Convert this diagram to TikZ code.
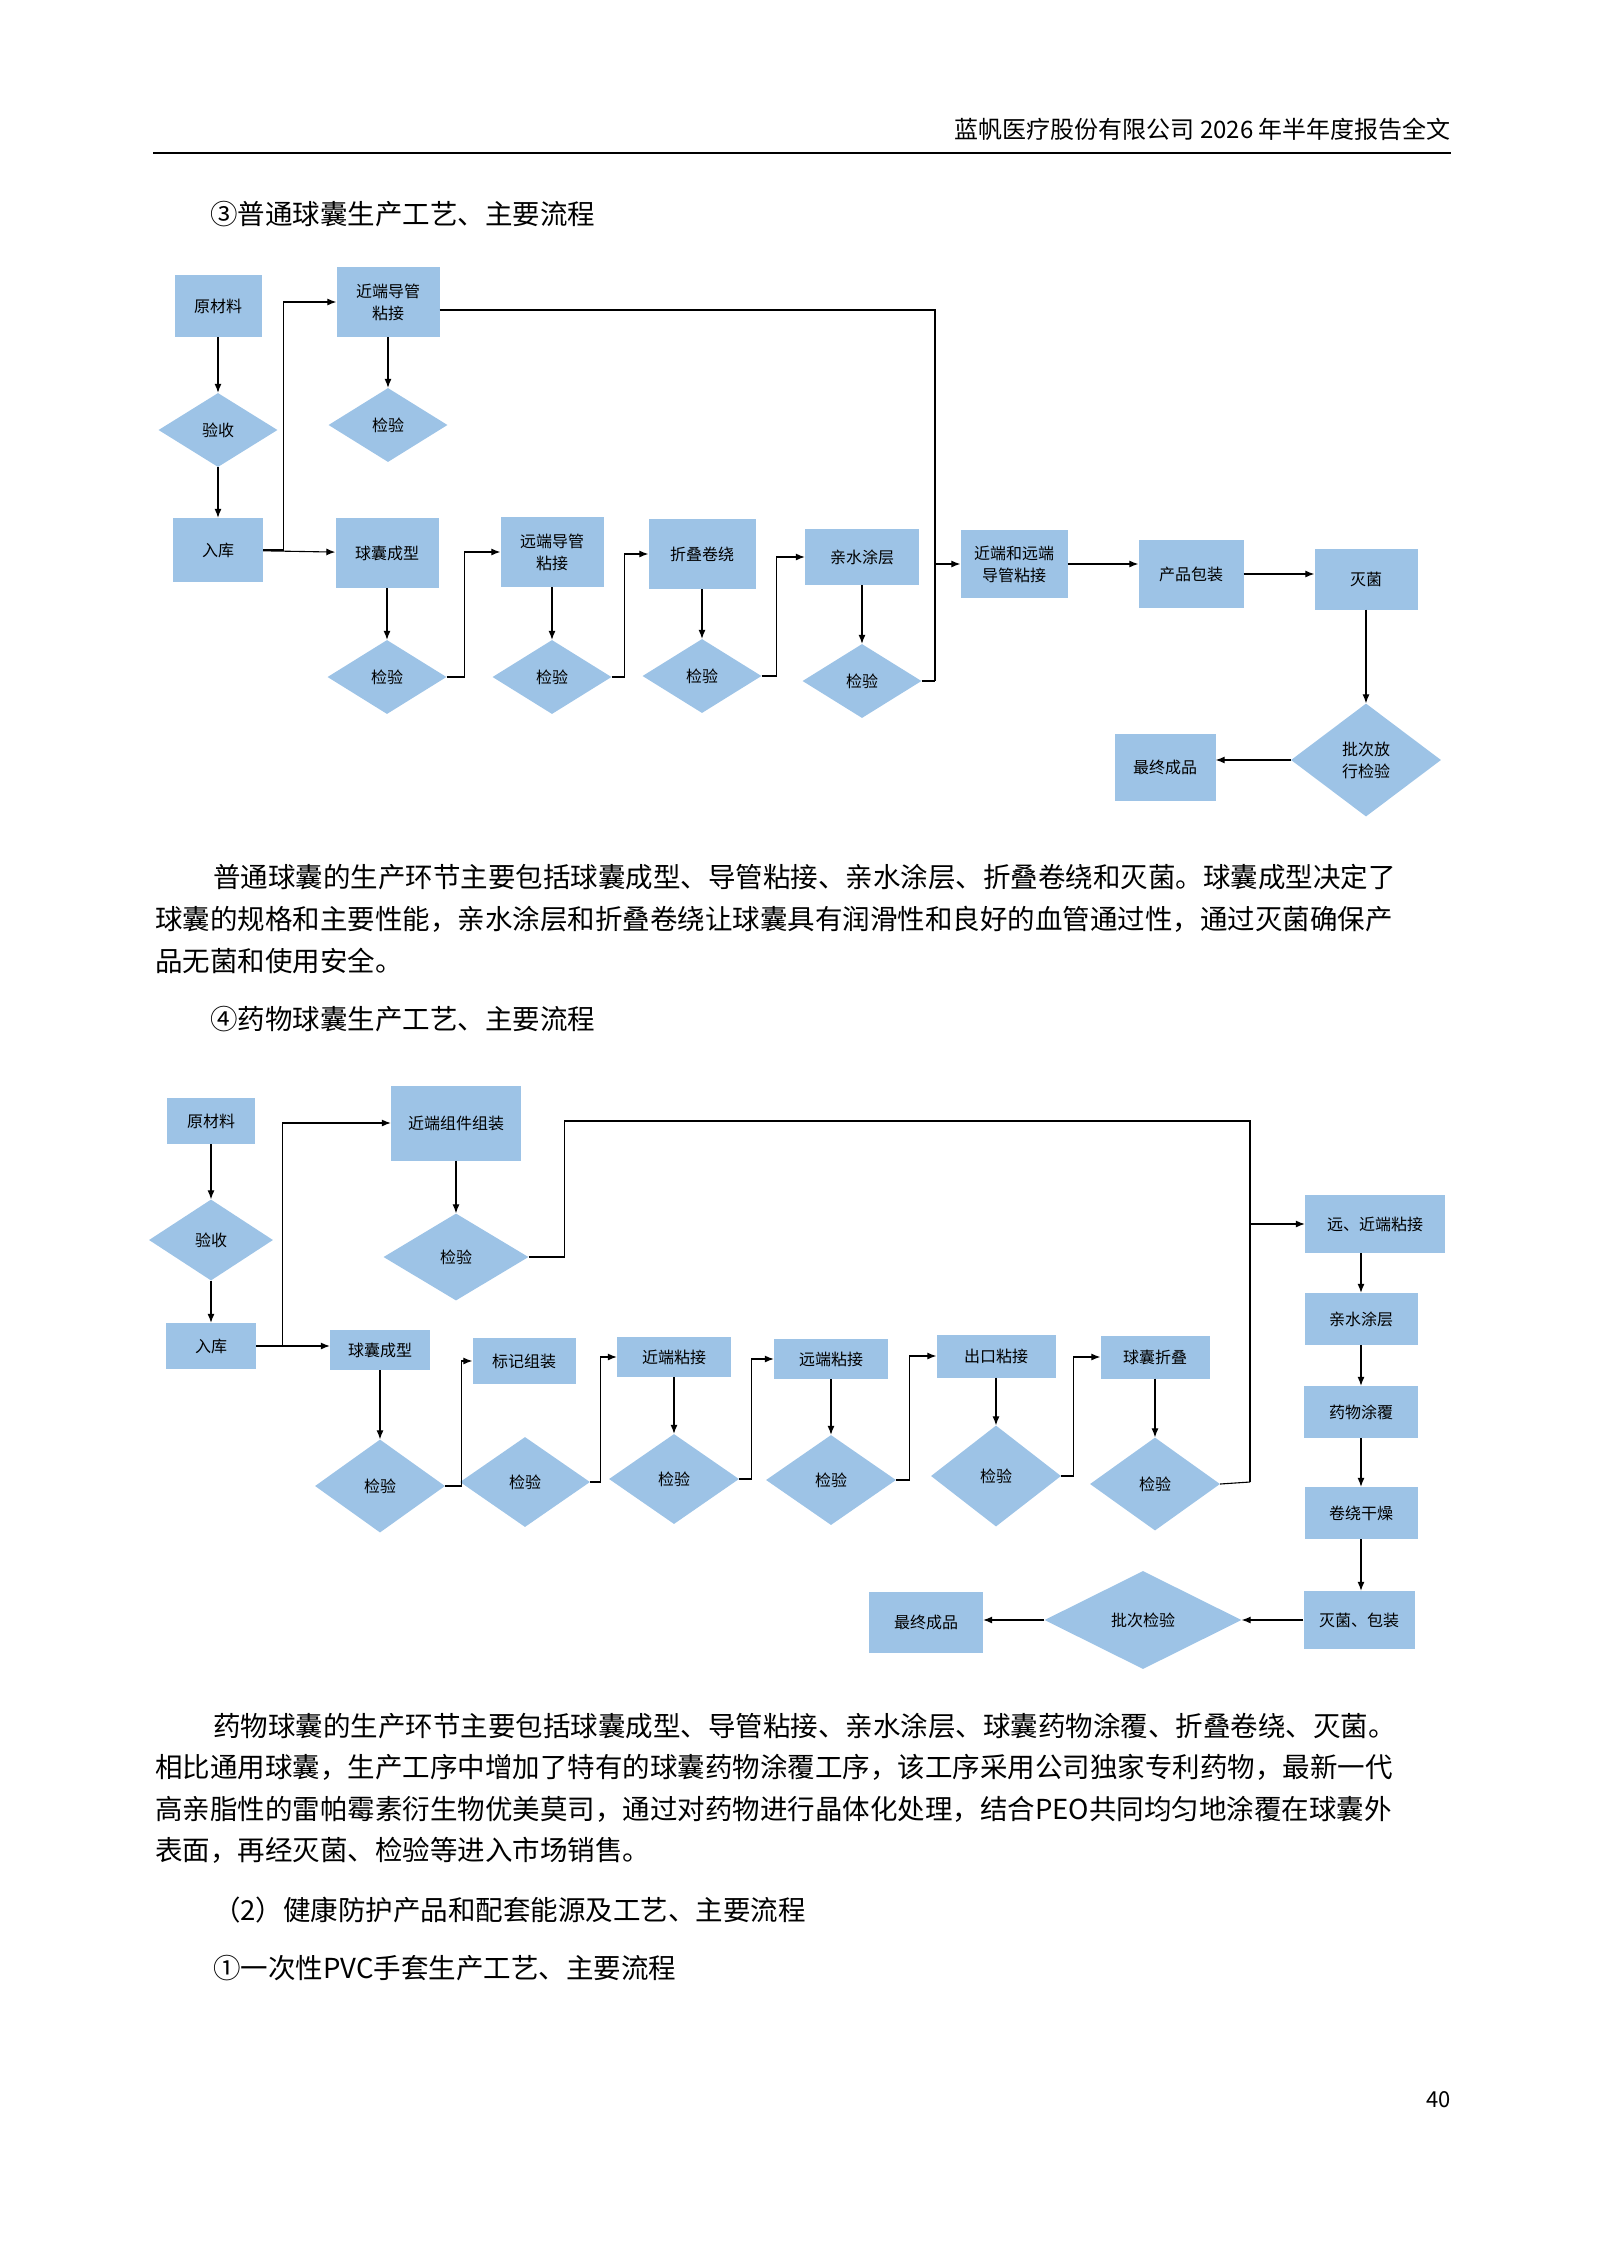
\documentclass[tikz,border=0pt]{standalone}
\usepackage{fontspec}
\setmainfont{Noto Sans CJK SC}
\usetikzlibrary{shapes.geometric,arrows.meta}
\definecolor{boxblue}{HTML}{9DC3E6}
\begin{document}
\begin{tikzpicture}[x=1pt,y=-1pt,
 box/.style={fill=boxblue,inner sep=0,minimum width=#1,align=center,font=\fontsize{16}{22}\selectfont},
 box/.default=103,
 dia/.style={diamond,fill=boxblue,inner sep=0,minimum width=119,minimum height=74,align=center,font=\fontsize{16}{22}\selectfont},
 arr/.style={-{Latex[length=9pt,width=7pt]},line width=1.1pt},
 ln/.style={line width=1.1pt},
 txt/.style={anchor=base west,inner sep=0,font=\fontsize{27.5}{30}\selectfont}]
\useasboundingbox (0,0) rectangle (1596,2257);
% header
\node[anchor=base east,inner sep=0,font=\fontsize{24}{28}\selectfont] (hd) at (1451,138) {蓝帆医疗股份有限公司 2026 年半年度报告全文};
\draw[line width=1.2pt] (153,153) -- (1451,153);
\node[txt] (t1h) at (210,224) {③普通球囊生产工艺、主要流程};
% ---------- diagram 1
\node[box=87,minimum height=62] (a1) at (218,306) {原材料};
\node[dia] (a2) at (218,430) {验收};
\node[box=90,minimum height=64] (a3) at (218,550) {入库};
\node[box,minimum height=70] (p1) at (388,302) {近端导管\\粘接};
\node[dia] (pk) at (388,425) {检验};
\node[box,minimum height=70] (b1) at (387,553) {球囊成型};
\node[dia] (k1) at (387,677) {检验};
\node[box,minimum height=70] (b2) at (552,552) {远端导管\\粘接};
\node[dia] (k2) at (552,677) {检验};
\node[box=107,minimum height=70] (b3) at (702,554) {折叠卷绕};
\node[dia] (k3) at (702,676) {检验};
\node[box=114,minimum height=56] (b4) at (862,557) {亲水涂层};
\node[dia] (k4) at (862,681) {检验};
\node[box=107,minimum height=68] (b5) at (1014,564) {近端和远端\\导管粘接};
\node[box=105,minimum height=68] (b6) at (1191,574) {产品包装};
\node[box=103,minimum height=61] (b7) at (1366,579) {灭菌};
\node[dia,minimum width=150,minimum height=113] (b8) at (1366,760) {批次放\\行检验};
\node[box=101,minimum height=67] (b9) at (1165,767) {最终成品};
\draw[arr] (a1) -- (a2);
\draw[arr] (a2) -- (a3);
\draw[arr] (a3) -- (b1);
\draw[arr] (a3.east) -- ++(20,0) |- (p1.west);
\draw[arr] (p1) -- (pk);
\draw[arr] (b1) -- (k1);
\draw[arr] (b2) -- (k2);
\draw[arr] (b3) -- (k3);
\draw[arr] (b4) -- (k4);
\draw[arr] (k1.east) -- ++(18,0) |- (b2.west);
\draw[arr] (k2.east) -- ++(13,0) |- (b3.west);
\draw[arr] (k3.east) -- ++(15,0) |- (b4.west);
\coordinate (J1) at (935,681);
\draw[ln] (p1.east) ++(0,8) -| (J1);
\draw[ln] (k4.east) -- (J1);
\draw[arr] (J1 |- b5.west) -- (b5.west);
\draw[arr] (b5.east) -- (b5.east -| b6.west);
\draw[arr] (b6.east) -- (b6.east -| b7.west);
\draw[arr] (b7) -- (b8);
\draw[arr] (b8.west) -- (b8.west -| b9.east);
% paragraph 1
\node[txt] (p1a) at (213,887) {普通球囊的生产环节主要包括球囊成型、导管粘接、亲水涂层、折叠卷绕和灭菌。球囊成型决定了};
\node[txt] (p1b) at (155,929) {球囊的规格和主要性能，亲水涂层和折叠卷绕让球囊具有润滑性和良好的血管通过性，通过灭菌确保产};
\node[txt] (p1c) at (155,971) {品无菌和使用安全。};
\node[txt] (t2h) at (210,1029) {④药物球囊生产工艺、主要流程};
% ---------- diagram 2
\node[box=88,minimum height=46] (c1) at (211,1121) {原材料};
\node[dia,minimum width=124,minimum height=81] (c2) at (211,1240) {验收};
\node[box=90,minimum height=46] (c3) at (211,1346) {入库};
\node[box=130,minimum height=75] (q1) at (456,1123) {近端组件组装};
\node[dia,minimum width=145,minimum height=87] (qk) at (456,1257) {检验};
\node[box=100,minimum height=40] (d1) at (380,1350) {球囊成型};
\node[dia,minimum width=130,minimum height=93] (e1) at (380,1486) {检验};
\node[box=103,minimum height=46] (d2) at (524,1361) {标记组装};
\node[dia,minimum width=130,minimum height=90] (e2) at (525,1482) {检验};
\node[box=114,minimum height=40] (d3) at (674,1357) {近端粘接};
\node[dia,minimum width=130,minimum height=90] (e3) at (674,1479) {检验};
\node[box=114,minimum height=40] (d4) at (831,1359) {远端粘接};
\node[dia,minimum width=130,minimum height=90] (e4) at (831,1480) {检验};
\node[box=119,minimum height=43] (d5) at (996,1356) {出口粘接};
\node[dia,minimum width=130,minimum height=101] (e5) at (996,1476) {检验};
\node[box=109,minimum height=43] (d6) at (1155,1357) {球囊折叠};
\node[dia,minimum width=130,minimum height=93] (e6) at (1155,1484) {检验};
\node[box=140,minimum height=58] (f1) at (1375,1224) {远、近端粘接};
\node[box=113,minimum height=52] (f2) at (1361,1319) {亲水涂层};
\node[box=114,minimum height=52] (f3) at (1361,1412) {药物涂覆};
\node[box=113,minimum height=52] (f4) at (1361,1513) {卷绕干燥};
\node[box=111,minimum height=58] (f5) at (1359,1620) {灭菌、包装};
\node[dia,minimum width=197,minimum height=98] (f6) at (1143,1620) {批次检验};
\node[box=114,minimum height=61] (f7) at (926,1622) {最终成品};
\draw[arr] (c1) -- (c2);
\draw[arr] (c2) -- (c3);
\draw[arr] (c3.east) -- (c3.east -| d1.west);
\draw[arr] (c3.east) -- ++(26,0) |- (q1.west);
\draw[arr] (q1) -- (qk);
\draw[arr] (d1) -- (e1);
\draw[arr] (d3) -- (e3);
\draw[arr] (d4) -- (e4);
\draw[arr] (d5) -- (e5);
\draw[arr] (d6) -- (e6);
\draw[arr] (e1.east) -- ++(16,0) |- (d2.west);
\draw[arr] (e2.east) -- ++(10,0) |- (d3.west);
\draw[arr] (e3.east) -- ++(12,0) |- (d4.west);
\draw[arr] (e4.east) -- ++(13,0) |- (d5.west);
\draw[arr] (e5.east) -- ++(12,0) |- (d6.west);
\coordinate (J2) at (1250,1482);
\draw[ln] (qk.east) -- ++(36,0) |- (1250,1121) -- (J2);
\draw[ln] (e6.east) -- (J2);
\draw[arr] (J2 |- f1.west) -- (f1.west);
\draw[arr] (f1.south -| f2) -- (f2.north);
\draw[arr] (f2) -- (f3);
\draw[arr] (f3) -- (f4);
\draw[arr] (f4.south) -- (f4.south |- f5.north);
\draw[arr] (f5.west) -- (f5.west -| f6.east);
\draw[arr] (f6.west) -- (f6.west -| f7.east);
% paragraph 2
\node[txt] (q2a) at (213,1736) {药物球囊的生产环节主要包括球囊成型、导管粘接、亲水涂层、球囊药物涂覆、折叠卷绕、灭菌。};
\node[txt] (q2b) at (155,1777) {相比通用球囊，生产工序中增加了特有的球囊药物涂覆工序，该工序采用公司独家专利药物，最新一代};
\node[txt] (q2c) at (155,1819) {高亲脂性的雷帕霉素衍生物优美莫司，通过对药物进行晶体化处理，结合PEO共同均匀地涂覆在球囊外};
\node[txt] (q2d) at (155,1860) {表面，再经灭菌、检验等进入市场销售。};
\node[txt] (s2) at (213,1920) {（2）健康防护产品和配套能源及工艺、主要流程};
\node[txt] (s3) at (213,1978) {①一次性PVC手套生产工艺、主要流程};
\node[anchor=base east,inner sep=0,font=\fontsize{22}{26}\selectfont] (pg) at (1451,2107) {40};
\end{tikzpicture}
\end{document}
